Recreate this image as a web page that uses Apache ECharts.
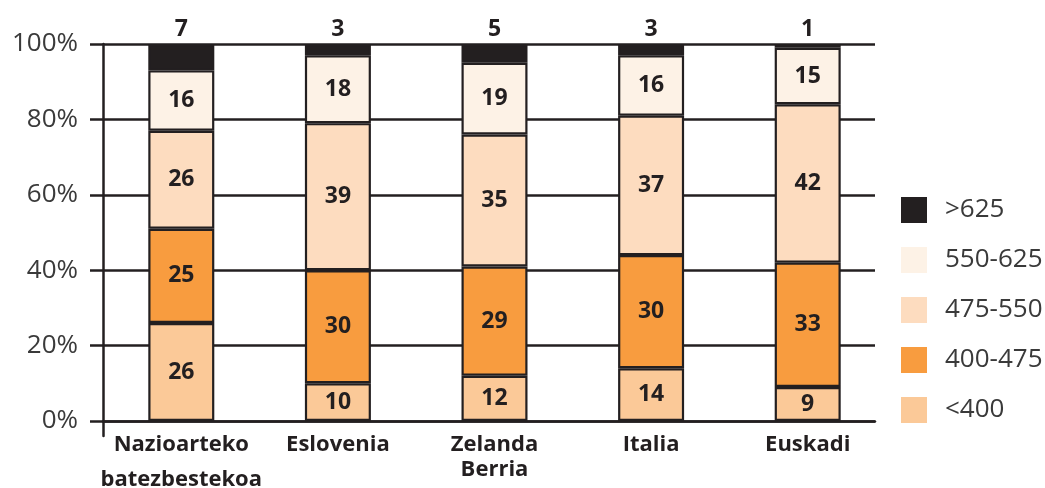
<!DOCTYPE html>
<html>
<head>
<meta charset="utf-8">
<script src="https://cdn.jsdelivr.net/npm/echarts@6/dist/echarts.min.js"></script>
<style>
  html, body { margin: 0; padding: 0; background: #ffffff; }
  #chart { width: 1045px; height: 488px; }
</style>
</head>
<body>
<div id="chart"></div>
<script>
// Categories (regions compared)
const categories = ['Nazioarteko\nbatezbestekoa', 'Eslovenia', 'Zelanda\nBerria', 'Italia', 'Euskadi'];

// Share of students per score band (%), bottom to top
const below400 = [26, 10, 12, 14, 9];
const band400_475 = [25, 30, 29, 30, 33];
const band475_550 = [26, 39, 35, 37, 42];
const band550_625 = [16, 18, 19, 16, 15];
const above625 = [7, 3, 5, 3, 1];

const bandNames = ['<400', '400-475', '475-550', '550-625', '>625'];
const bandColors = ['#fbc998', '#f89c3f', '#fddcbf', '#fdf2e6', '#231f20'];
const bandValues = [below400, band400_475, band475_550, band550_625, above625];

const ink = '#231f20';
const font = '"Open Sans", "Noto Sans", sans-serif';

const series = bandNames.map((name, i) => {
  const isTop = i === bandNames.length - 1;
  return {
    name: name,
    type: 'bar',
    stack: 'total',
    xAxisIndex: 1,
    yAxisIndex: 1,
    barWidth: 66,
    data: bandValues[i],
    itemStyle: { color: bandColors[i], borderColor: ink, borderWidth: 2.2 },
    label: {
      show: true,
      position: isTop ? 'top' : 'inside',
      distance: 3,
      color: ink,
      fontFamily: font,
      fontWeight: 'bold',
      fontSize: 23
    }
  };
});

const option = {
  backgroundColor: '#ffffff',
  animation: false,
  grid: [
    // gridlines and value axis
    { left: 103, top: 44, width: 772, bottom: 67, outerBoundsMode: 'none' },
    // bars and category labels
    { left: 103, top: 44, width: 783, bottom: 67, outerBoundsMode: 'none' },
    // vertical axis line extending below the baseline
    { left: 103, top: 44, width: 772, bottom: 52, outerBoundsMode: 'none' }
  ],
  xAxis: [
    {
      gridIndex: 0, type: 'value', min: 0, max: 1,
      axisLine: { show: true, lineStyle: { color: ink, width: 2.5 } },
      axisTick: { show: false }, axisLabel: { show: false }, splitLine: { show: false }
    },
    {
      gridIndex: 1, type: 'category', data: categories.map(c => {
        if (c.startsWith('Nazioarteko')) {
          return { value: c, textStyle: { lineHeight: 35, padding: [0, 0, 0, 0] } };
        }
        return c;
      }),
      axisLine: { show: false }, axisTick: { show: false },
      axisLabel: {
        margin: 6, color: ink, fontFamily: font, fontWeight: 'bold',
        fontSize: 22, lineHeight: 25, padding: [5, 0, 0, 0], interval: 0
      }
    },
    {
      gridIndex: 2, type: 'value', min: 0, max: 1, show: false
    }
  ],
  yAxis: [
    {
      gridIndex: 0, type: 'value', min: 0, max: 100, interval: 20,
      axisLine: { show: false },
      axisTick: { show: true, length: 13, lineStyle: { color: ink, width: 2.5 } },
      axisLabel: {
        formatter: v => v + '%', margin: 25, color: '#3a3a3a',
        fontFamily: font, fontSize: 26
      },
      splitLine: { show: true, lineStyle: { color: ink, width: 2.5 } }
    },
    {
      gridIndex: 1, type: 'value', min: 0, max: 100, show: false
    },
    {
      gridIndex: 2, type: 'value', min: 0, max: 1,
      axisLine: { show: true, lineStyle: { color: ink, width: 2.5 } },
      axisTick: { show: false }, axisLabel: { show: false }, splitLine: { show: false }
    }
  ],
  legend: {
    orient: 'vertical',
    left: 901,
    top: 197,
    padding: 0,
    itemWidth: 26,
    itemHeight: 26,
    itemGap: 24,
    icon: 'rect',
    data: bandNames.slice().reverse(),
    itemStyle: { borderWidth: 0 },
    textStyle: { color: '#3a3a3a', fontFamily: font, fontSize: 26, lineHeight: 26, padding: [0, 0, 0, 13] }
  },
  series: series
};

const chart = echarts.init(document.getElementById('chart'), null, { renderer: 'canvas' });
chart.setOption(option);
</script>
</body>
</html>
